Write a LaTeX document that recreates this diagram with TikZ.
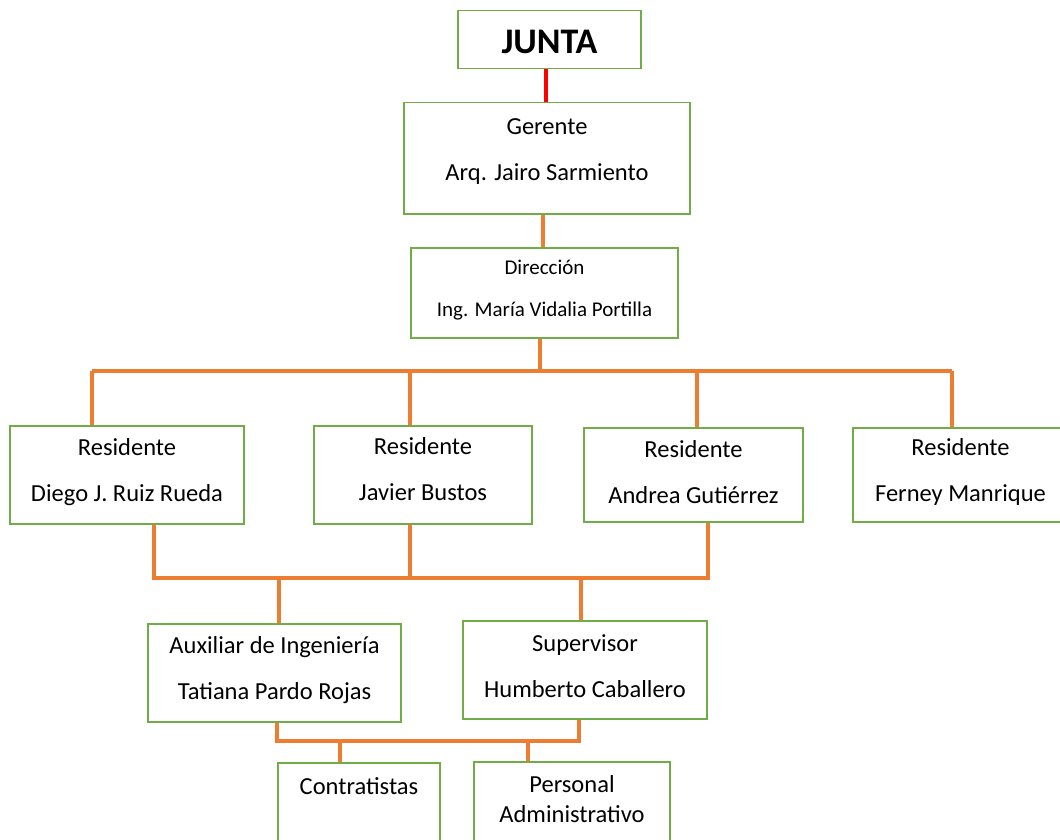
\documentclass[tikz,border=0pt]{standalone}
\usepackage{fontspec}
\setmainfont{Carlito}
\usepackage{tikz}
\usetikzlibrary{positioning,calc}
\definecolor{boxgreen}{HTML}{70AD47}
\definecolor{linkorange}{HTML}{ED7D31}
\tikzset{box/.style={draw=boxgreen, line width=1.5pt, inner sep=0pt, anchor=north, align=center},
link/.style={draw=linkorange, line width=4pt},
redlink/.style={draw=red, line width=4pt},
txt/.style={font=\fontsize{24.5}{46}\selectfont}}

\begin{document}
\begin{tikzpicture}[x=1pt, y=-1pt]
        \fill[white] (0,0) rectangle (1060,840);
        \useasboundingbox (0,0) rectangle (1060,840);

        \node[box, minimum width=183, text height=43, text depth=15, font=\fontsize{36}{40}\selectfont\bfseries] (junta) at (549.5,10) {JUNTA};
        \node[box, txt, minimum width=286, text height=78, text depth=33] (ger) at (547,102) {Gerente\\Arq. Jairo Sarmiento};
        \node[box, minimum width=267, text height=69, text depth=21, font=\fontsize{21}{42}\selectfont] (dir) at (544.5,247) {Dirección\\Ing. María Vidalia Portilla};

        \node[box, txt, minimum width=234, text height=76, text depth=22] (res1) at (127,425) {Residente\\Diego J. Ruiz Rueda};
        \node[box, txt, minimum width=218, text height=75, text depth=23] (res2) at (423,425) {Residente\\Javier Bustos};
        \node[box, txt, minimum width=219, text height=76, text depth=18] (res3) at (693.5,427) {Residente\\Andrea Gutiérrez};
        \node[box, txt, minimum width=215, text height=74, text depth=20] (res4) at (960.5,427) {Residente\\Ferney Manrique};

        \node[box, txt, minimum width=253, text height=76, text depth=22] (aux) at (274.5,623) {Auxiliar de Ingeniería\\Tatiana Pardo Rojas};
        \node[box, txt, minimum width=244, text height=77, text depth=21] (sup) at (585,620) {Supervisor\\Humberto Caballero};

        \node[box, txt, minimum width=162, text height=32, text depth=86] (con) at (359,762) {Contratistas};
        \node[box, minimum width=196, text height=61, text depth=58, font=\fontsize{24.5}{30}\selectfont] (adm) at (572,761) {Personal\\Administrativo};

        \coordinate (bus1 a) at (92,371);
        \coordinate (bus1 b) at (410,371);
        \coordinate (bus1 c) at (697,371);
        \coordinate (bus1 d) at (952,371);
        \coordinate (bus1 m) at (540,371);

        \coordinate (bus2 a) at (154,578);
        \coordinate (bus2 b) at (410,578);
        \coordinate (bus2 c) at (708,578);
        \coordinate (bus2 d) at (279,578);
        \coordinate (bus2 e) at (581,578);

        \coordinate (bus3 a) at (277,741);
        \coordinate (bus3 b) at (579,741);
        \coordinate (bus3 c) at (340,741);
        \coordinate (bus3 d) at (528,741);

        \draw[redlink] (junta.south -| 546,0) -- (ger.north -| 546,0);
        \draw[link] (ger.south -| 543,0) -- (dir.north -| 543,0);

        \draw[link] (dir.south -| bus1 m) -- (bus1 m);
        \draw[link] (bus1 a) -- (bus1 d);
        \draw[link] (bus1 a) -- (bus1 a |- res1.north);
        \draw[link] (bus1 b) -- (bus1 b |- res2.north);
        \draw[link] (bus1 c) -- (bus1 c |- res3.north);
        \draw[link] (bus1 d) -- (bus1 d |- res4.north);

        \draw[link] (bus2 a |- res1.south) -- (bus2 a) -- (bus2 c) -- (bus2 c |- res3.south);
        \draw[link] (bus2 b |- res2.south) -- (bus2 b);
        \draw[link] (bus2 d) -- (bus2 d |- aux.north);
        \draw[link] (bus2 e) -- (bus2 e |- sup.north);

        \draw[link] (bus3 a |- aux.south) -- (bus3 a) -- (bus3 b) -- (bus3 b |- sup.south);
        \draw[link] (bus3 c) -- (bus3 c |- con.north);
        \draw[link] (bus3 d) -- (bus3 d |- adm.north);
    \end{tikzpicture}
\end{document}
